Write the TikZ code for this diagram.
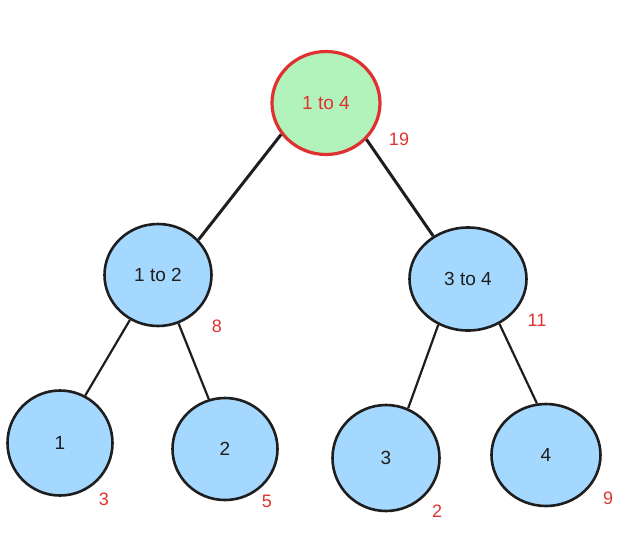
\documentclass[tikz,border=0pt]{standalone}
\usepackage{fontspec}
\setmainfont{Liberation Sans}
\usepackage{xcolor}
\usepackage{tikz}
\usetikzlibrary{shapes.geometric}
\definecolor{rootFill}{HTML}{B2F2BB}
\definecolor{rootLine}{HTML}{E03131}
\definecolor{segFill}{HTML}{A5D8FF}
\definecolor{segLine}{HTML}{1E1E1E}
\definecolor{sumRed}{HTML}{E03131}
\tikzset{
  segnode/.style 2 args={ellipse, draw=segLine, fill=segFill, line width=2.6pt, inner sep=0pt, minimum width=#1, minimum height=#2, font=\fontsize{19}{22}\selectfont, text=segLine},
  rootnode/.style 2 args={ellipse, draw=rootLine, fill=rootFill, line width=3.2pt, inner sep=0pt, minimum width=#1, minimum height=#2, font=\fontsize{19}{22}\selectfont, text=rootLine},
  sumlabel/.style={font=\fontsize{18}{20}\selectfont, text=sumRed, inner sep=0pt},
  treeedge/.style={draw=segLine, line width=3pt},
  leafedge/.style={draw=segLine, line width=2.2pt},
}

\begin{document}
\begin{tikzpicture}[x=1pt,y=-1pt]

  \useasboundingbox (0,0) rectangle (636,533);

  % ---------- root ----------
  \node[rootnode={108pt}{103pt}] (r14) at (326,103) {1 to 4};

  % ---------- middle level ----------
  \node[segnode={107pt}{102pt}] (r12) at (158,275) {1 to 2};
  \node[segnode={117pt}{103pt}] (r34) at (468,279) {3 to 4};

  % ---------- leaves ----------
  \node[segnode={105pt}{105pt}] (l1) at (60,443)  {1};
  \node[segnode={105pt}{102pt}] (l2) at (225,449) {2};
  \node[segnode={107pt}{106pt}] (l3) at (386,458) {3};
  \node[segnode={109pt}{102pt}] (l4) at (546,455) {4};

  % ---------- sums ----------
  \node[sumlabel] (s14) at (399,139) {19};
  \node[sumlabel] (s12) at (217,326) {8};
  \node[sumlabel] (s34) at (537,320) {11};
  \node[sumlabel] (s1)  at (104,499) {3};
  \node[sumlabel] (s2)  at (267,501) {5};
  \node[sumlabel] (s3)  at (437,511) {2};
  \node[sumlabel] (s4)  at (608,498) {9};

  % ---------- edges ----------
  \draw[treeedge] (r14.215) -- (r12.41);
  \draw[treeedge] (r14.318) -- (r34.129);
  \draw[leafedge] (r12.238) -- (l1.62);
  \draw[leafedge] (r12.293) -- (l2.108);
  \draw[leafedge] (r34.237) -- (l3.66);
  \draw[leafedge] (r34.305) -- (l4.100);

\end{tikzpicture}
\end{document}
